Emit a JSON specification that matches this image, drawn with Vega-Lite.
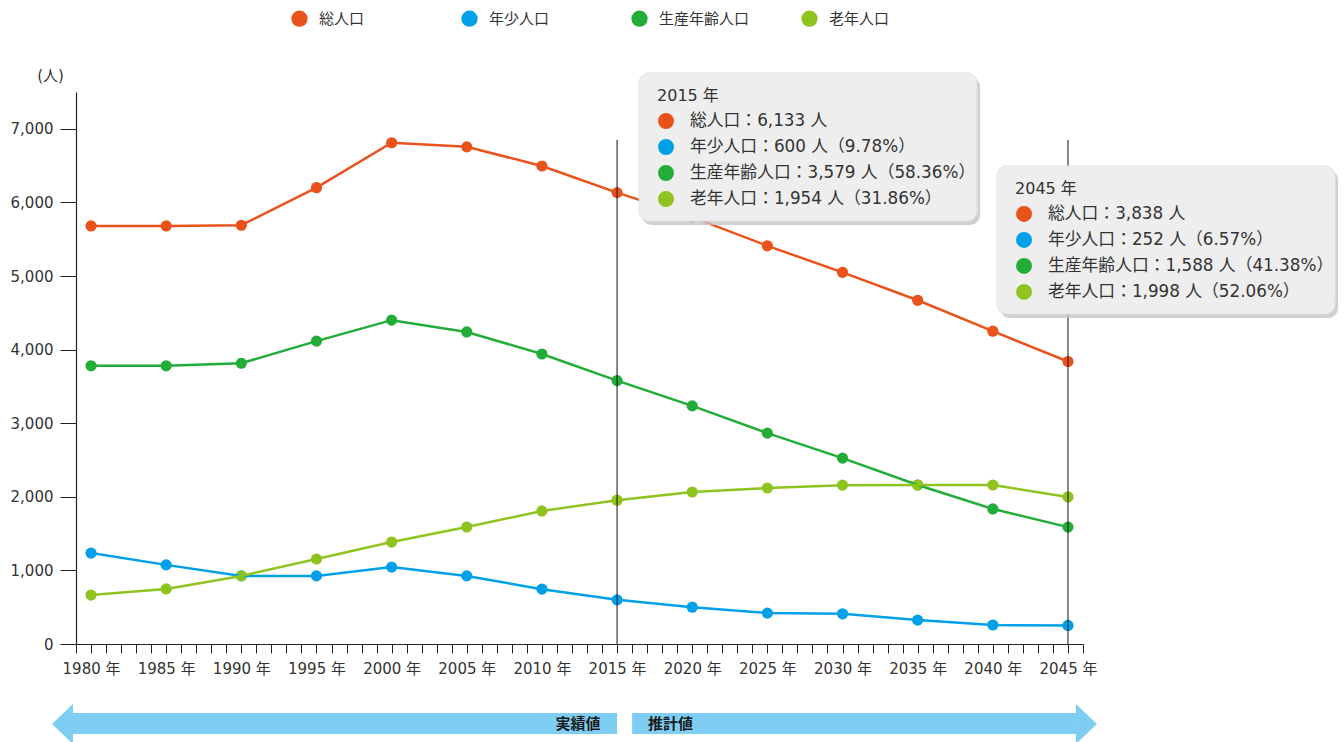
{
  "$schema": "https://vega.github.io/schema/vega-lite/v6.json",
  "width": 1007,
  "height": 552,
  "autosize": {"type": "none"},
  "padding": {"left": 76, "top": 92, "right": 261, "bottom": 98},
  "background": "white",
  "config": {
    "font": "DejaVu Sans, Noto Sans CJK JP",
    "view": {"stroke": null},
    "legend": {"padding": 0}
  },
  "datasets": {
    "pop": [
      {"year": 1980, "series": "総人口", "value": 5680},
      {"year": 1985, "series": "総人口", "value": 5680},
      {"year": 1990, "series": "総人口", "value": 5690},
      {"year": 1995, "series": "総人口", "value": 6200},
      {"year": 2000, "series": "総人口", "value": 6810},
      {"year": 2005, "series": "総人口", "value": 6755},
      {"year": 2010, "series": "総人口", "value": 6495},
      {"year": 2015, "series": "総人口", "value": 6133},
      {"year": 2020, "series": "総人口", "value": 5800},
      {"year": 2025, "series": "総人口", "value": 5410},
      {"year": 2030, "series": "総人口", "value": 5050},
      {"year": 2035, "series": "総人口", "value": 4670},
      {"year": 2040, "series": "総人口", "value": 4250},
      {"year": 2045, "series": "総人口", "value": 3838},
      {"year": 1980, "series": "年少人口", "value": 1235},
      {"year": 1985, "series": "年少人口", "value": 1075},
      {"year": 1990, "series": "年少人口", "value": 925},
      {"year": 1995, "series": "年少人口", "value": 925},
      {"year": 2000, "series": "年少人口", "value": 1045},
      {"year": 2005, "series": "年少人口", "value": 925},
      {"year": 2010, "series": "年少人口", "value": 745},
      {"year": 2015, "series": "年少人口", "value": 600},
      {"year": 2020, "series": "年少人口", "value": 500},
      {"year": 2025, "series": "年少人口", "value": 420},
      {"year": 2030, "series": "年少人口", "value": 410},
      {"year": 2035, "series": "年少人口", "value": 325},
      {"year": 2040, "series": "年少人口", "value": 258},
      {"year": 2045, "series": "年少人口", "value": 252},
      {"year": 1980, "series": "生産年齢人口", "value": 3780},
      {"year": 1985, "series": "生産年齢人口", "value": 3780},
      {"year": 1990, "series": "生産年齢人口", "value": 3815},
      {"year": 1995, "series": "生産年齢人口", "value": 4115},
      {"year": 2000, "series": "生産年齢人口", "value": 4400},
      {"year": 2005, "series": "生産年齢人口", "value": 4240},
      {"year": 2010, "series": "生産年齢人口", "value": 3940},
      {"year": 2015, "series": "生産年齢人口", "value": 3579},
      {"year": 2020, "series": "生産年齢人口", "value": 3235},
      {"year": 2025, "series": "生産年齢人口", "value": 2865},
      {"year": 2030, "series": "生産年齢人口", "value": 2525},
      {"year": 2035, "series": "生産年齢人口", "value": 2160},
      {"year": 2040, "series": "生産年齢人口", "value": 1835},
      {"year": 2045, "series": "生産年齢人口", "value": 1588},
      {"year": 1980, "series": "老年人口", "value": 665},
      {"year": 1985, "series": "老年人口", "value": 748},
      {"year": 1990, "series": "老年人口", "value": 925},
      {"year": 1995, "series": "老年人口", "value": 1155},
      {"year": 2000, "series": "老年人口", "value": 1385},
      {"year": 2005, "series": "老年人口", "value": 1590},
      {"year": 2010, "series": "老年人口", "value": 1808},
      {"year": 2015, "series": "老年人口", "value": 1954},
      {"year": 2020, "series": "老年人口", "value": 2065},
      {"year": 2025, "series": "老年人口", "value": 2120},
      {"year": 2030, "series": "老年人口", "value": 2158},
      {"year": 2035, "series": "老年人口", "value": 2160},
      {"year": 2040, "series": "老年人口", "value": 2160},
      {"year": 2045, "series": "老年人口", "value": 1998}
    ],
    "arrows": [
      {"label": "実績値", "from": 1978.8, "to": 2015},
      {"label": "推計値", "from": 2016, "to": 2045.53}
    ]
  },
  "resolve": {"legend": {"color": "independent"}, "axis": {"x": "independent", "y": "independent"}},
  "layer": [
    {
      "data": {"name": "pop"},
      "mark": {"type": "point", "filled": true, "opacity": 1, "size": 125},
      "encoding": {
        "x": {
          "field": "year", "type": "quantitative",
          "scale": {"domain": [1979, 2046], "nice": false, "zero": false},
          "axis": {
            "title": null, "grid": false,
            "values": [1979,1980,1981,1982,1983,1984,1985,1986,1987,1988,1989,1990,1991,1992,1993,1994,1995,1996,1997,1998,1999,2000,2001,2002,2003,2004,2005,2006,2007,2008,2009,2010,2011,2012,2013,2014,2015,2016,2017,2018,2019,2020,2021,2022,2023,2024,2025,2026,2027,2028,2029,2030,2031,2032,2033,2034,2035,2036,2037,2038,2039,2040,2041,2042,2043,2044,2045,2046],
            "labelExpr": "datum.value % 5 === 0 ? datum.value + ' 年' : ''",
            "labelOverlap": false, "labelFlush": false,
            "labelFontSize": 15, "labelColor": "#333333", "labelPadding": 8,
            "tickSize": 9, "tickColor": "#222222", "domainColor": "#222222",
            "tickWidth": 1, "domainWidth": 1.2
          }
        },
        "y": {
          "field": "value", "type": "quantitative",
          "scale": {"domain": [0, 7500], "nice": false},
          "axis": {
            "title": "(人)", "titleAngle": 0, "titleAlign": "center", "titleBaseline": "middle",
            "titleX": -26, "titleY": -17, "titleFontSize": 15, "titleFontWeight": "normal", "titleColor": "#333333",
            "grid": false, "values": [0,1000,2000,3000,4000,5000,6000,7000], "format": ",d",
            "labelFontSize": 15, "labelColor": "#333333", "labelPadding": 7,
            "tickSize": 16, "tickColor": "#222222", "domainColor": "#222222", "domainWidth": 1.2
          }
        },
        "color": {
          "field": "series", "type": "nominal",
          "scale": {"domain": ["総人口", "年少人口", "生産年齢人口", "老年人口"], "range": ["#E9531B", "#00A0E9", "#22AC38", "#8FC31F"]},
          "legend": {
            "title": null, "orient": "none", "direction": "horizontal", "columns": 4,
            "legendX": 215, "legendY": -82, "gridAlign": "all", "columnPadding": 51,
            "symbolType": "circle", "symbolSize": 265, "symbolStrokeWidth": 0, "symbolOpacity": 1,
            "labelFontSize": 15, "labelColor": "#333333", "labelOffset": 11, "labelFont": "Noto Sans CJK JP"
          }
        }
      }
    },
    {
      "data": {"name": "pop"},
      "mark": {"type": "line", "strokeWidth": 2.5},
      "encoding": {
        "x": {"field": "year", "type": "quantitative", "axis": null},
        "y": {"field": "value", "type": "quantitative", "axis": null},
        "color": {"field": "series", "type": "nominal", "legend": null}
      }
    },
    {
      "data": {"name": "pop"},
      "transform": [
        {"filter": "datum.series == '総人口' && (datum.year == 2015 || datum.year == 2045)"},
        {"calculate": "0", "as": "y0"},
        {"calculate": "6850", "as": "y1"}
      ],
      "mark": {"type": "rule", "color": "#111111", "strokeWidth": 1},
      "encoding": {
        "x": {"field": "year", "type": "quantitative", "axis": null},
        "y": {"field": "y0", "type": "quantitative", "axis": null},
        "y2": {"field": "y1"}
      }
    },
    {
      "data": {"name": "pop"},
      "transform": [
        {"filter": "datum.series == '総人口' && (datum.year == 2015 || datum.year == 2045)"},
        {"calculate": "datum.year == 2015 ? 2016.46 : 2040.28", "as": "bx"},
        {"calculate": "datum.year == 2015 ? 7758 : 6495", "as": "by"},
        {"calculate": "datum.bx + 22.49", "as": "bx2"},
        {"calculate": "datum.by - 2011", "as": "by2"}
      ],
      "mark": {"type": "rect", "fill": "#c4c4c4", "cornerRadius": 10, "xOffset": 3, "x2Offset": 3, "yOffset": 4, "y2Offset": 4, "opacity": 0.8},
      "encoding": {
        "x": {"field": "bx", "type": "quantitative", "axis": null},
        "x2": {"field": "bx2"},
        "y": {"field": "by", "type": "quantitative", "axis": null},
        "y2": {"field": "by2"}
      }
    },
    {
      "data": {"name": "pop"},
      "transform": [
        {"filter": "datum.series == '総人口' && (datum.year == 2015 || datum.year == 2045)"},
        {"calculate": "datum.year == 2015 ? 2016.46 : 2040.28", "as": "bx"},
        {"calculate": "datum.year == 2015 ? 7758 : 6495", "as": "by"},
        {"calculate": "datum.bx + 22.49", "as": "bx2"},
        {"calculate": "datum.by - 2011", "as": "by2"}
      ],
      "mark": {"type": "rect", "fill": "#EEEEEE", "cornerRadius": 10, "stroke": "#e2e2e2", "strokeWidth": 1},
      "encoding": {
        "x": {"field": "bx", "type": "quantitative", "axis": null},
        "x2": {"field": "bx2"},
        "y": {"field": "by", "type": "quantitative", "axis": null},
        "y2": {"field": "by2"}
      }
    },
    {
      "data": {"name": "pop"},
      "transform": [
        {"filter": "datum.series == '総人口' && (datum.year == 2015 || datum.year == 2045)"},
        {"calculate": "(datum.year == 2015 ? 2016.46 : 2040.28) + 1.198", "as": "tx"},
        {"calculate": "(datum.year == 2015 ? 7758 : 6495) - 312", "as": "ty"},
        {"calculate": "datum.year + ' 年'", "as": "label"}
      ],
      "mark": {"type": "text", "align": "left", "baseline": "middle", "fontSize": 16, "color": "#333333"},
      "encoding": {
        "x": {"field": "tx", "type": "quantitative", "axis": null},
        "y": {"field": "ty", "type": "quantitative", "axis": null},
        "text": {"field": "label"}
      }
    },
    {
      "data": {"name": "pop"},
      "transform": [
        {"filter": "datum.year == 2015 || datum.year == 2045"},
        {"calculate": "indexof(['総人口','年少人口','生産年齢人口','老年人口'], datum.series)", "as": "rank"},
        {"calculate": "(datum.year == 2015 ? 2016.46 : 2040.28) + 1.796", "as": "cx"},
        {"calculate": "(datum.year == 2015 ? 7758 : 6495) - 652 - datum.rank * 353.3", "as": "ty"}
      ],
      "mark": {"type": "point", "filled": true, "opacity": 1, "size": 254, "shape": "circle"},
      "encoding": {
        "x": {"field": "cx", "type": "quantitative", "axis": null},
        "y": {"field": "ty", "type": "quantitative", "axis": null},
        "color": {"field": "series", "type": "nominal", "legend": null}
      }
    },
    {
      "data": {"name": "pop"},
      "transform": [
        {"filter": "datum.year == 2015 || datum.year == 2045"},
        {"joinaggregate": [{"op": "max", "field": "value", "as": "total"}], "groupby": ["year"]},
        {"calculate": "indexof(['総人口','年少人口','生産年齢人口','老年人口'], datum.series)", "as": "rank"},
        {"calculate": "(datum.year == 2015 ? 2016.46 : 2040.28) + 3.393", "as": "tx"},
        {"calculate": "(datum.year == 2015 ? 7758 : 6495) - 652 - datum.rank * 353.3", "as": "ty"},
        {"calculate": "datum.series + '：' + format(datum.value, ',') + ' 人' + (datum.rank > 0 ? '（' + format(datum.value / datum.total * 100, '.2f') + '%）' : '')", "as": "label"}
      ],
      "mark": {"type": "text", "align": "left", "baseline": "middle", "fontSize": 16.8, "color": "#333333"},
      "encoding": {
        "x": {"field": "tx", "type": "quantitative", "axis": null},
        "y": {"field": "ty", "type": "quantitative", "axis": null},
        "text": {"field": "label"}
      }
    },
    {
      "data": {"name": "arrows"},
      "transform": [{"calculate": "-937", "as": "ya"}, {"calculate": "-1223", "as": "yb"}],
      "mark": {"type": "rect", "color": "#7ECEF4"},
      "encoding": {
        "x": {"field": "from", "type": "quantitative", "axis": null},
        "x2": {"field": "to"},
        "y": {"field": "ya", "type": "quantitative", "axis": null},
        "y2": {"field": "yb"}
      }
    },
    {
      "data": {"name": "arrows"},
      "transform": [{"filter": "datum.label == '実績値'"}, {"calculate": "-1087", "as": "ym"}],
      "mark": {"type": "point", "filled": true, "opacity": 1, "color": "#7ECEF4", "size": 1600, "shape": "M 0 -1 L -1.05 0 L 0 1 Z"},
      "encoding": {
        "x": {"field": "from", "type": "quantitative", "axis": null},
        "y": {"field": "ym", "type": "quantitative", "axis": null}
      }
    },
    {
      "data": {"name": "arrows"},
      "transform": [{"filter": "datum.label == '推計値'"}, {"calculate": "-1087", "as": "ym"}],
      "mark": {"type": "point", "filled": true, "opacity": 1, "color": "#7ECEF4", "size": 1600, "shape": "M 0 -1 L 1.05 0 L 0 1 Z"},
      "encoding": {
        "x": {"field": "to", "type": "quantitative", "axis": null},
        "y": {"field": "ym", "type": "quantitative", "axis": null}
      }
    },
    {
      "data": {"name": "arrows"},
      "transform": [
        {"calculate": "datum.label == '実績値' ? datum.to - 2.6 : datum.from + 2.56", "as": "tx"},
        {"calculate": "-1087", "as": "ym"}
      ],
      "mark": {"type": "text", "align": "center", "baseline": "middle", "fontSize": 15, "fontWeight": "bold", "font": "Noto Sans CJK JP", "color": "#1a1a1a"},
      "encoding": {
        "x": {"field": "tx", "type": "quantitative", "axis": null},
        "y": {"field": "ym", "type": "quantitative", "axis": null},
        "text": {"field": "label"}
      }
    }
  ]
}
